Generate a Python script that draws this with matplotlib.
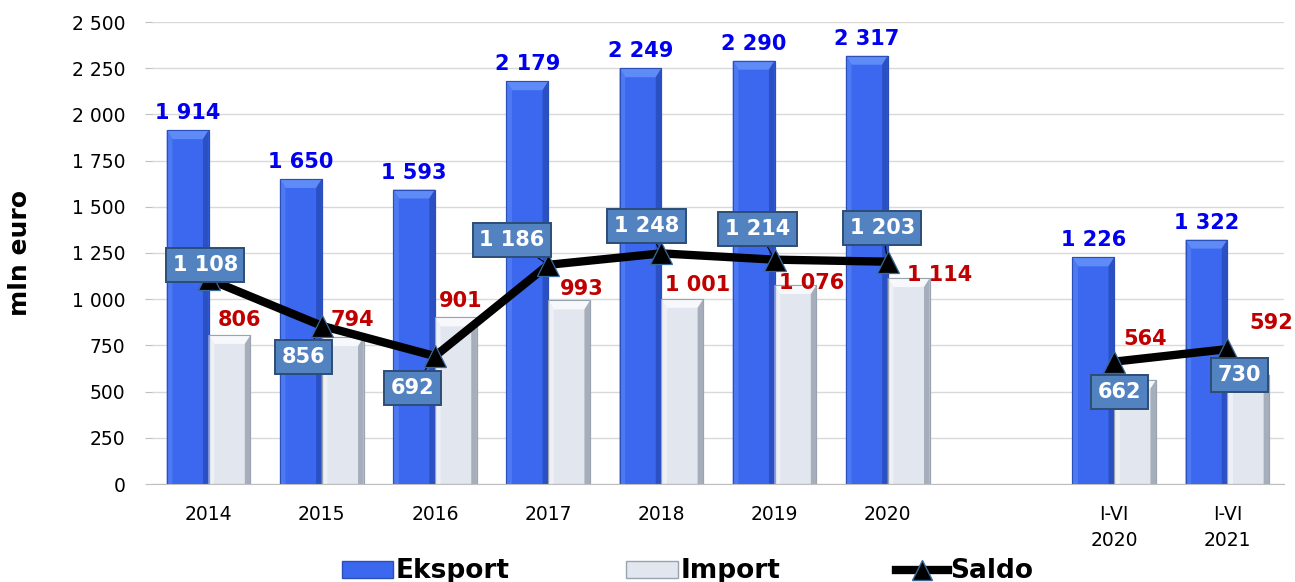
import matplotlib
matplotlib.use("Agg")
import matplotlib.pyplot as plt
import numpy as np
from matplotlib.lines import Line2D
from matplotlib.patches import Patch, Polygon

categories = ["2014", "2015", "2016", "2017", "2018", "2019", "2020", "", "I-VI\n2020", "I-VI\n2021"]
eksport = [1914, 1650, 1593, 2179, 2249, 2290, 2317, None, 1226, 1322]
import_ = [806, 794, 901, 993, 1001, 1076, 1114, None, 564, 592]
saldo = [1108, 856, 692, 1186, 1248, 1214, 1203, None, 662, 730]

def fmt(v):
    return f"{v:,}".replace(",", " ")

plt.rcParams['font.family'] = ['DejaVu Sans']
fig = plt.figure(figsize=(12.95, 5.82), dpi=100)
ax = fig.add_axes([152/1295, 1-484/582, (1284-152)/1295, (484-22)/582])

n = len(categories)
x = np.arange(n)
w = 0.37

blue_cols = dict(body="#3b68ee", top="#5f8bf7", left="#4d79f2", right="#2a50c4", edge="#2a4fb8")
gray_cols = dict(body="#e2e6ee", top="#f7f8fb", left="#eef0f5", right="#a7aebb", edge="#9aa3b0")

def bevel_bar(xc, h, cols):
    ax.bar(xc, h, w, color=cols["body"], edgecolor=cols["edge"], linewidth=0.8, zorder=2)
    x0, x1 = xc - w/2, xc + w/2
    dx = 0.05
    dy = 48
    ax.add_patch(Polygon([(x0, h), (x1, h), (x1 - dx, h - dy), (x0 + dx, h - dy)],
                         closed=True, facecolor=cols["top"], edgecolor="none", zorder=2.1))
    ax.add_patch(Polygon([(x0, 0), (x0, h), (x0 + dx, h - dy), (x0 + dx, 0)],
                         closed=True, facecolor=cols["left"], edgecolor="none", zorder=2.1))
    ax.add_patch(Polygon([(x1, 0), (x1, h), (x1 - dx, h - dy), (x1 - dx, 0)],
                         closed=True, facecolor=cols["right"], edgecolor="none", zorder=2.1))
    ax.bar(xc, h, w, facecolor="none", edgecolor=cols["edge"], linewidth=0.8, zorder=2.2)

for i in range(n):
    if eksport[i] is None:
        continue
    bevel_bar(x[i] - w/2, eksport[i], blue_cols)
    bevel_bar(x[i] + w/2, import_[i], gray_cols)
    ax.text(x[i] - w/2, eksport[i] + 38, fmt(eksport[i]), ha="center", va="bottom",
            color="#0000ee", fontsize=15, fontweight="bold", zorder=6)

# import label offsets (x in category units, y in data units)
imp_dx = [0.27, 0.27, 0.23, 0.30, 0.32, 0.33, 0.46, 0, 0.27, 0.39]
imp_dy = [81, 93, 89, 62, 76, 12, 17, 0, 221, 279]
for i in range(n):
    if import_[i] is None:
        continue
    ax.text(x[i] + imp_dx[i], import_[i] + imp_dy[i], fmt(import_[i]), ha="center", va="center",
            color="#c00000", fontsize=15, fontweight="bold", zorder=6)

# saldo label offsets
sal_dx = [-0.03, -0.16, -0.2, -0.32, -0.13, -0.15, -0.05, 0, 0.05, 0.11]
sal_dy = [77, -169, -173, 134, 148, 166, 182, 0, -164, -140]

# leader lines
for i in range(n):
    if saldo[i] is None:
        continue
    ax.plot([x[i], x[i] + sal_dx[i]], [saldo[i], saldo[i] + sal_dy[i]], color="black",
            linewidth=0.8, zorder=3.5)

# saldo line segments
seg1 = [(x[i], saldo[i]) for i in range(7)]
seg2 = [(x[i], saldo[i]) for i in range(8, 10)]
for seg in (seg1, seg2):
    xs, ys = zip(*seg)
    ax.plot(xs, ys, color="black", linewidth=6, zorder=4, solid_capstyle="butt")
    ax.plot(xs, ys, linestyle="none", marker="^", markersize=16, markerfacecolor="black",
            markeredgecolor="#3a6a9a", markeredgewidth=0.9, zorder=5)

for i in range(n):
    if saldo[i] is None:
        continue
    ax.text(x[i] + sal_dx[i], saldo[i] + sal_dy[i], fmt(saldo[i]), ha="center", va="center",
            color="white", fontsize=15, fontweight="bold", zorder=7,
            bbox=dict(boxstyle="square,pad=0.32", facecolor="#5283c0", edgecolor="#2c4d75", linewidth=1.4))

ax.set_xlim(-0.5, n - 0.5)
ax.set_ylim(0, 2500)
ax.set_yticks(np.arange(0, 2501, 250))
ax.set_yticklabels([fmt(v) for v in range(0, 2501, 250)], fontsize=13.5)
ax.set_xticks([i for i in range(n) if categories[i]])
ax.set_xticklabels([c for c in categories if c], fontsize=13.5, linespacing=1.45)
ax.tick_params(axis="x", length=0, pad=15)
ax.tick_params(axis="y", length=5, color="#bfbfbf", pad=14)
ax.grid(axis="y", color="#d9d9d9", linewidth=1, zorder=0)
ax.set_axisbelow(True)
for s in ("top", "right", "left"):
    ax.spines[s].set_visible(False)
ax.spines["bottom"].set_color("#bfbfbf")
ax.set_ylabel("mln euro", fontsize=18, fontweight="bold")
ax.yaxis.set_label_coords(-0.106, 0.5)

handles = [Patch(facecolor=blue_cols["body"], edgecolor=blue_cols["edge"]),
           Patch(facecolor=gray_cols["body"], edgecolor=gray_cols["edge"]),
           Line2D([0], [0], color="black", linewidth=6, marker="^", markersize=14,
                  markerfacecolor="black", markeredgecolor="#3a6a9a")]
fig.legend(handles, ["Eksport", "Import", "Saldo"], loc="lower center", ncol=3,
           bbox_to_anchor=(0.531, -0.045), frameon=False, prop=dict(size=19, weight="bold"),
           columnspacing=4.4, handlelength=1.95, handletextpad=0.1, handleheight=0.6)

fig.savefig("out.png", dpi=100)
